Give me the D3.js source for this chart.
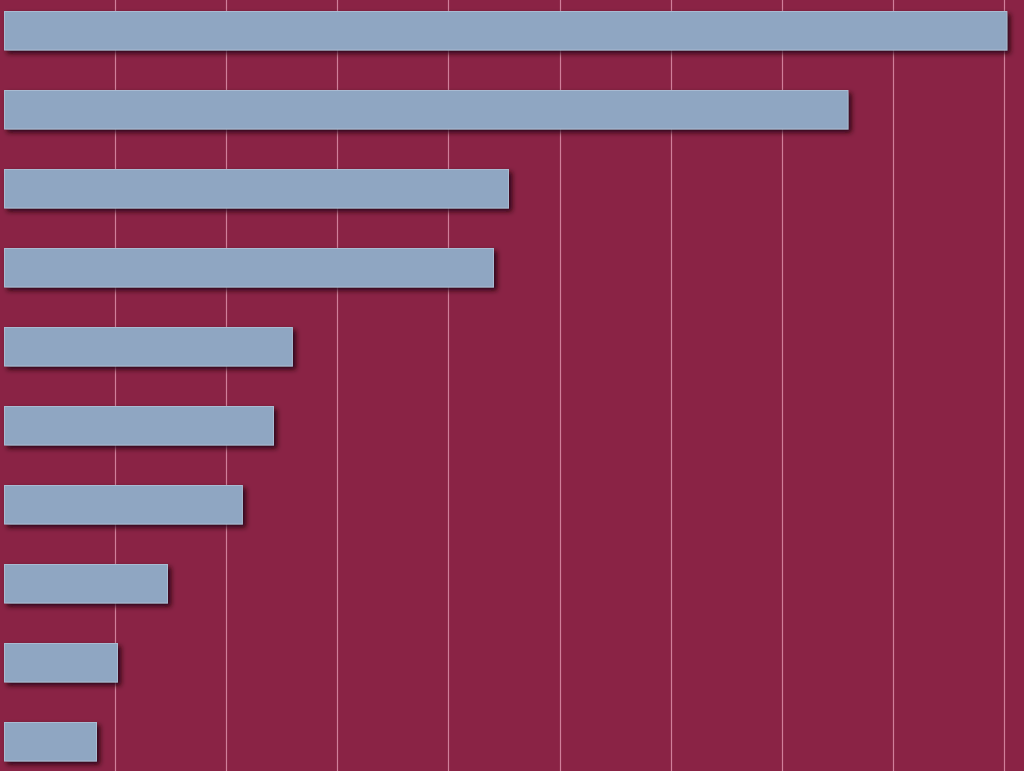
<!DOCTYPE html>
<html><head><meta charset="utf-8">
<script src="https://cdn.jsdelivr.net/npm/d3@7"></script>
<style>html,body{margin:0;padding:0;background:#8a2345;overflow:hidden}</style>
</head><body>
<script>
const categories = ["A","B","C","D","E","F","G","H","I","J"];
const values = [9.03, 7.60, 4.545, 4.41, 2.60, 2.43, 2.15, 1.476, 1.026, 0.837];
const ticks = [1,2,3,4,5,6,7,8,9];

const W = 1024, H = 771;
const svg = d3.select("body").append("svg").attr("width", W).attr("height", H);
svg.append("rect").attr("width", W).attr("height", H).attr("fill", "#8a2345");

const defs = svg.append("defs");
const f = defs.append("filter").attr("id","sh").attr("x","-5%").attr("y","-30%").attr("width","115%").attr("height","180%");
f.append("feDropShadow").attr("dx",3).attr("dy",3).attr("stdDeviation",2.5).attr("flood-color","#1a0008").attr("flood-opacity",0.85);

const x = d3.scaleLinear().domain([0, 9]).range([4, 1004]);
const y = d3.scaleBand().domain(categories).range([11, 761.5]).paddingInner(0.5).paddingOuter(0);

svg.append("g").selectAll("line").data(ticks).join("line")
  .attr("x1", d => Math.round(x(d)) + 0.5).attr("x2", d => Math.round(x(d)) + 0.5)
  .attr("y1", 0).attr("y2", H)
  .attr("stroke", "#d07f9a").attr("stroke-width", 1.2);

svg.append("g").selectAll("rect").data(values).join("rect")
  .attr("x", x(0) + 0.5)
  .attr("y", (d, i) => y(categories[i]) + 0.5)
  .attr("width", d => x(d) - x(0) - 1)
  .attr("height", y.bandwidth() - 1)
  .attr("fill", "#8fa6c2")
  .attr("stroke", "#a9bbd2").attr("stroke-width", 1)
  .attr("filter", "url(#sh)");
</script>
</body></html>
